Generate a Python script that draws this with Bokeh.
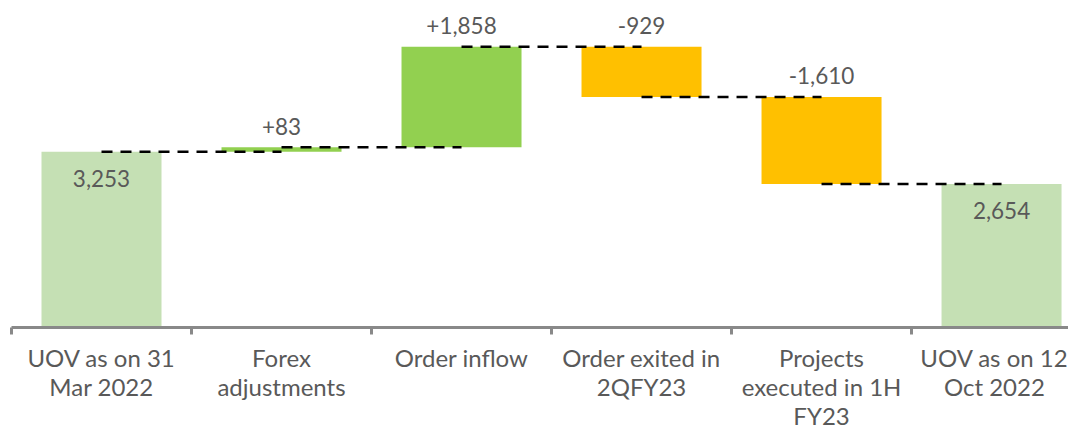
from bokeh.plotting import figure
from bokeh.models import ColumnDataSource, Range1d, FixedTicker
from bokeh.embed import file_html
from bokeh.resources import INLINE
from bokeh.core.properties import value

categories = ["UOV as on 31\nMar 2022", "Forex\nadjustments", "Order inflow",
              "Order exited in\n2QFY23", "Projects\nexecuted in 1H\nFY23", "UOV as on 12\nOct 2022"]
values = [3253, 83, 1858, -929, -1610, 2654]
kinds = ["total", "delta", "delta", "delta", "delta", "total"]

TOTAL_C = "#c5e0b4"
UP_C = "#92d050"
DOWN_C = "#ffc000"
TXT_C = "#595959"
FONT = "Lato"

xs, bottoms, tops, colors, labels = [], [], [], [], []
levels = []
running = 0
for i, (v, k) in enumerate(zip(values, kinds)):
    xs.append(i)
    if k == "total":
        bottoms.append(0); tops.append(v); colors.append(TOTAL_C)
        labels.append(f"{v:,}")
        running = v
    else:
        b, t = min(running, running + v), max(running, running + v)
        bottoms.append(b); tops.append(t)
        colors.append(UP_C if v > 0 else DOWN_C)
        labels.append(f"{v:+,}")
        running += v
    levels.append(running)

bars = ColumnDataSource(dict(x=xs, bottom=bottoms, top=tops, color=colors, label=labels))
conn = ColumnDataSource(dict(x0=xs[:-1], x1=[x + 1 for x in xs[:-1]], y=levels[:-1]))
tot_idx = [i for i, k in enumerate(kinds) if k == "total"]
del_idx = [i for i, k in enumerate(kinds) if k != "total"]
tot_src = ColumnDataSource(dict(x=[xs[i] for i in tot_idx], y=[tops[i] for i in tot_idx], label=[labels[i] for i in tot_idx]))
del_src = ColumnDataSource(dict(x=[xs[i] for i in del_idx], y=[tops[i] for i in del_idx], label=[labels[i] for i in del_idx]))

p = figure(width=1068, height=432, output_backend="svg", toolbar_location=None,
           x_range=Range1d(-0.5, 5.372), y_range=Range1d(0, 6050),
           min_border_left=11, min_border_right=0, min_border_top=0, min_border_bottom=0)
p.outline_line_color = None
p.xgrid.visible = False
p.ygrid.visible = False
p.yaxis.visible = False

p.vbar(x="x", bottom="bottom", top="top", width=0.6667, fill_color="color", line_color=None, source=bars)
p.segment(x0="x0", x1="x1", y0="y", y1="y", line_color="black", line_width=2.5, line_dash="11 8", source=conn)

p.text(x="x", y="y", text="label", source=tot_src, text_font=value(FONT), text_font_size="22.5px",
       text_color=TXT_C, text_align="center", text_baseline="top", y_offset=18)
p.text(x="x", y="y", text="label", source=del_src, text_font=value(FONT), text_font_size="22.5px",
       text_color=TXT_C, text_align="center", text_baseline="alphabetic", y_offset=-21)

ax = p.xaxis[0]
ax.ticker = FixedTicker(ticks=xs, minor_ticks=[x - 0.5 for x in xs])
ax.major_label_overrides = {x: c for x, c in zip(xs, categories)}
ax.major_tick_out = 0
ax.major_tick_in = 0
ax.minor_tick_in = 0
ax.minor_tick_out = 7
ax.minor_tick_line_color = "#898989"
ax.minor_tick_line_width = 3
ax.axis_line_color = "#898989"
ax.axis_line_width = 3
ax.major_label_standoff = 8
ax.major_label_text_font = FONT
ax.major_label_text_font_size = "24px"
ax.major_label_text_color = TXT_C
ax.major_label_text_line_height = 1.0

open("out.html", "w").write(file_html(p, INLINE))
